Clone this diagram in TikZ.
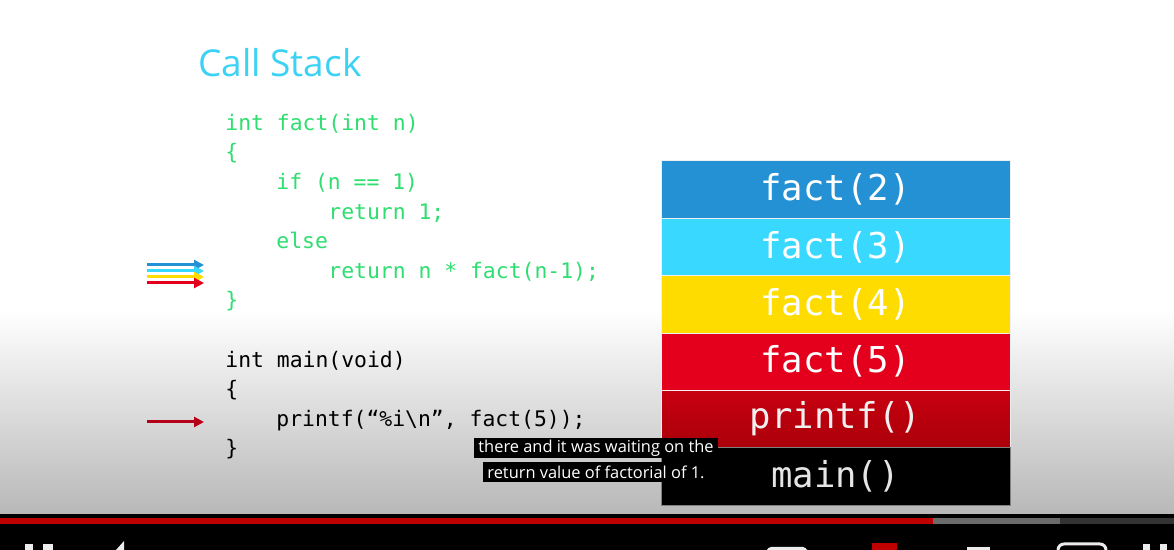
\documentclass[tikz,border=0pt]{standalone}
\usepackage{fontspec}
\setmainfont{Open Sans}
\newfontfamily\codefont{DejaVu Sans Mono}
\usepackage{tikz}
\usetikzlibrary{positioning,arrows.meta}

\definecolor{codegreen}{RGB}{46,222,112}
\definecolor{titlecyan}{RGB}{60,210,245}
\definecolor{fblue}{RGB}{35,145,212}
\definecolor{fcyan}{RGB}{56,216,255}
\definecolor{fyellow}{RGB}{254,220,0}
\definecolor{fred}{RGB}{228,0,28}
\definecolor{ptop}{RGB}{200,0,16}
\definecolor{pbot}{RGB}{170,0,10}
\definecolor{arrowred}{RGB}{180,0,25}
\definecolor{bggray}{RGB}{184,184,184}
\definecolor{ytred}{RGB}{190,0,0}
\definecolor{ytgray}{RGB}{107,107,107}
\definecolor{ytdark}{RGB}{51,51,51}

\begin{document}
\begin{tikzpicture}[x=0.5pt,y=-0.5pt,
    codeline/.style={anchor=base west, inner sep=0pt, text=codegreen,
      font=\codefont\fontsize{10.7}{12}\selectfont},
    frame/.style={minimum width=174.5pt, minimum height=28.67pt, inner sep=0pt,
      outer sep=0pt, draw=white!88!gray, line width=0.5pt, text=white,
      font=\codefont\fontsize{17.8}{20}\selectfont},
    caption/.style={fill=black, text=white, inner xsep=2pt, inner ysep=0pt,
      minimum height=10pt, font=\fontsize{8.2}{10}\selectfont},
    callarrow/.style={line width=1.5pt, -{Triangle[length=5pt,width=5pt]}}]
    \useasboundingbox (0,0) rectangle (1174,550);
    % slide background and player shadow
    \fill[white] (0,0) rectangle (1174,550);
    \shade[top color=white, bottom color=bggray] (0,310) rectangle (1174,514);
    \fill[black] (0,514) rectangle (1174,550);
    \fill[ytred]  (0,518)    rectangle (933,524);
    \fill[ytgray] (933,518)  rectangle (1060,524);
    \fill[ytdark] (1060,518) rectangle (1174,524);

    \node[anchor=base west, inner sep=0pt, text=titlecyan,
      font=\fontsize{18.5}{22}\selectfont] (title) at (198,77) {Call Stack};

    % fact()
    \node[codeline] (l1) at (225,131) {int fact(int n)};
    \node[codeline] (l2) at (225,160) {\{};
    \node[codeline] (l3) at (276,190) {if (n == 1)};
    \node[codeline] (l4) at (328,220) {return 1;};
    \node[codeline] (l5) at (276,249) {else};
    \node[codeline] (l6) at (328,279) {return n * fact(n-1);};
    \node[codeline] (l7) at (225,308) {\}};
    % main()
    \node[codeline, text=black] (m1) at (225,368) {int main(void)};
    \node[codeline, text=black] (m2) at (225,397) {\{};
    \node[codeline, text=black] (m3) at (276,427) {printf(“\%i\textbackslash n”, fact(5));};
    \node[codeline, text=black] (m4) at (225,456) {\}};

    % return arrows
    \foreach \c/\yy [count=\i] in {fblue/265, fcyan/271, fyellow/277, fred/283} {
      \coordinate (s\i) at (147,\yy);
      \coordinate (e\i) at (204,\yy);
      \draw[callarrow, \c] (s\i) -- (e\i);
    }
    \coordinate (ps) at (147,422);
    \coordinate (pe) at (204,422);
    \draw[callarrow, arrowred] (ps) -- (pe);

    % the stack
    \node[frame, fill=fblue, anchor=north west] (f2) at (661,161) {fact(2)};
    \node[frame, fill=fcyan, below=0pt of f2] (f3) {fact(3)};
    \node[frame, fill=fyellow, below=0pt of f3] (f4) {fact(4)};
    \node[frame, fill=fred, below=0pt of f4] (f5) {fact(5)};
    \node[frame, top color=ptop, bottom color=pbot, text=white!88!gray,
      below=0pt of f5] (pf) {printf()};
    \node[frame, fill=black, draw=gray, text=white!80!gray,
      below=0pt of pf] (mn) {main()};

    % subtitles
    \node[caption, anchor=north] (cap1) at (596,438) {there and it was waiting on the};
    \node[caption, anchor=north] (cap2) at (596,462) {return value of factorial of 1.};

    % player controls, cut off
    \fill[white!85!gray] (25,544) rectangle (33,550);
    \fill[white!85!gray] (43,544) rectangle (53,550);
    \fill[white!85!gray] (124,541) -- (124,550) -- (116,550) -- cycle;
    \fill[white!85!gray, rounded corners=2pt] (767,547) rectangle (807,553);
    \fill[ytred] (872,543) rectangle (897,550);
    \fill[white!85!gray] (967,547) rectangle (990,550);
    \draw[white!85!gray, line width=1.5pt, rounded corners=3pt] (1058,550) -- (1058,544) -- (1106,544) -- (1106,550);
    \fill[white!85!gray] (1143,544) rectangle (1150,550);
    \fill[white!85!gray] (1160,544) rectangle (1167,550);
\end{tikzpicture}
\end{document}
